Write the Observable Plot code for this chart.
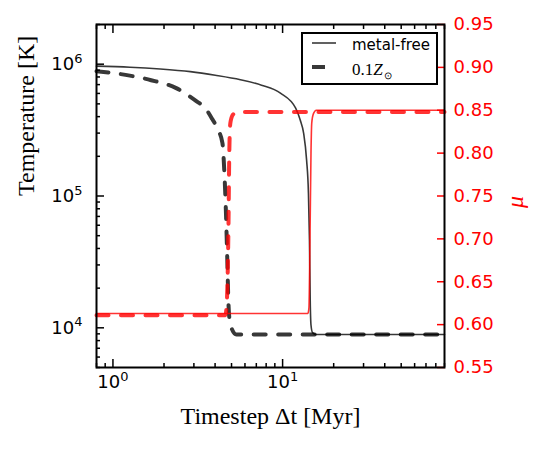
<!DOCTYPE html>
<html>
<head>
<meta charset="utf-8">
<script src="https://cdn.jsdelivr.net/npm/d3@7"></script>
<script src="https://cdn.jsdelivr.net/npm/@observablehq/plot@0.6"></script>
<style>
  body { margin: 0; background: #fff; }
  #chart { position: relative; width: 540px; height: 450px; }
  #chart > svg.layer { position: absolute; left: 0; top: 0; }
  #chart > svg.legend { position: absolute; left: 301px; top: 32px; }
</style>
</head>
<body>
<div id="chart"></div>
<script>
// Cooling run: temperature and mean molecular weight against timestep length
const timestepMetalFree = [0.8, 1.26, 1.9, 2.86, 4.01, 5.64, 7.51, 9.71, 11.94, 12.7, 13.3, 13.85, 14.2, 14.4, 14.55, 14.7, 15.0, 15.7, 20, 40, 90];
const tempMetalFree     = [9.66e5, 9.49e5, 9.2e5, 8.78e5, 8.25e5, 7.63e5, 6.93e5, 6.03e5, 4.64e5, 3.77e5, 3.0e5, 1.87e5, 1.05e5, 4.6e4, 1.6e4, 1.05e4, 9.2e3, 8.9e3, 8.9e3, 8.9e3, 8.9e3];

const timestepTenthSolar = [0.8, 1.21, 1.68, 2.36, 3.10, 3.5, 3.85, 4.15, 4.42, 4.53, 4.63, 4.72, 4.79, 4.85, 4.99, 5.34, 10, 90];
const tempTenthSolar     = [8.85e5, 8.26e5, 7.56e5, 6.58e5, 5.25e5, 4.64e5, 3.83e5, 3.2e5, 2.52e5, 1.57e5, 7.8e4, 3.3e4, 1.6e4, 1.2e4, 1.0e4, 8.9e3, 8.9e3, 8.9e3];

const muTimestepMetalFree = [0.8, 14.1, 14.3, 14.5, 14.7, 14.85, 15.2, 15.8, 90];
const muMetalFree         = [0.613, 0.613, 0.62, 0.70, 0.80, 0.835, 0.846, 0.850, 0.850];

const muTimestepTenthSolar = [0.8, 4.6, 4.7, 4.8, 4.85, 4.92, 5.1, 5.4, 90];
const muTenthSolar         = [0.611, 0.611, 0.63, 0.72, 0.80, 0.835, 0.845, 0.848, 0.848];

// Axis ticks
const xDomain = [0.8, 90];
const xMajor = [1, 10];
const xMinor = [0.8, 0.9, 2, 3, 4, 5, 6, 7, 8, 9, 20, 30, 40, 50, 60, 70, 80, 90];
const tDomain = [5e3, 2e6];
const tMajor = [1e4, 1e5, 1e6];
const tMinor = [5e3, 6e3, 7e3, 8e3, 9e3, 2e4, 3e4, 4e4, 5e4, 6e4, 7e4, 8e4, 9e4, 2e5, 3e5, 4e5, 5e5, 6e5, 7e5, 8e5, 9e5, 2e6];
const muDomain = [0.55, 0.95];
const muTicks = [0.55, 0.60, 0.65, 0.70, 0.75, 0.80, 0.85, 0.90, 0.95];

const xLabel = "Timestep Δt [Myr]";
const tLabel = "Temperature [K]";
const muLabel = "μ";

const zip = (xs, ys) => xs.map((x, i) => ({x, y: ys[i]}));
const metalFree = zip(timestepMetalFree, tempMetalFree);
const tenthSolar = zip(timestepTenthSolar, tempTenthSolar);
const muFree = zip(muTimestepMetalFree, muMetalFree);
const muTenth = zip(muTimestepTenthSolar, muTenthSolar);

const layout = {
  width: 540, height: 450,
  marginLeft: 96, marginRight: 96, marginTop: 24, marginBottom: 83,
  style: {fontFamily: "DejaVu Sans", fontSize: "18px", background: "transparent", overflow: "visible"}
};
const pow10 = d => `10^${Math.round(Math.log10(d))}`;
const blank = () => "";
const serif = "Liberation Serif";
const tick = {strokeWidth: 1.5, label: null};

const tempPlot = Plot.plot({
  ...layout,
  x: {type: "log", domain: xDomain},
  y: {type: "log", domain: tDomain},
  marks: [
    Plot.axisY(tMajor, {...tick, tickSize: -8, tickPadding: 22, tickFormat: pow10, fontSize: 18}),
    Plot.axisY(tMinor, {...tick, tickSize: -4, tickFormat: blank}),
    Plot.axisX(xMajor, {...tick, anchor: "bottom", tickSize: -8, tickPadding: 16, tickFormat: pow10, fontSize: 18}),
    Plot.axisX(xMinor, {...tick, anchor: "bottom", tickSize: -4, tickFormat: blank}),
    Plot.axisX(xMajor, {...tick, anchor: "top", tickSize: -8, tickFormat: blank}),
    Plot.axisX(xMinor, {...tick, anchor: "top", tickSize: -4, tickFormat: blank}),
    Plot.line(metalFree, {x: "x", y: "y", curve: "monotone-x", stroke: "black", strokeOpacity: 0.78, strokeWidth: 1.6}),
    Plot.line(tenthSolar, {x: "x", y: "y", curve: "monotone-x", stroke: "black", strokeOpacity: 0.78, strokeWidth: 4, strokeDasharray: "12,12.5"}),
    Plot.text([tLabel], {text: d => d, frameAnchor: "left", dx: -70, rotate: -90, fontFamily: serif, fontSize: 24, fill: "black"}),
    Plot.text([xLabel], {text: d => d, frameAnchor: "bottom", dy: 56, fontFamily: serif, fontSize: 24, fill: "black"})
  ]
});

const muPlot = Plot.plot({
  ...layout,
  x: {type: "log", domain: xDomain, axis: null},
  y: {domain: muDomain},
  marks: [
    Plot.line(muFree, {x: "x", y: "y", curve: "monotone-x", stroke: "red", strokeOpacity: 0.8, strokeWidth: 1.6}),
    Plot.line(muTenth, {x: "x", y: "y", curve: "monotone-x", stroke: "red", strokeOpacity: 0.8, strokeWidth: 4, strokeDasharray: "12,12.5"}),
    Plot.axisY(muTicks, {...tick, anchor: "right", tickSize: -8, tickPadding: 17, color: "red", tickFormat: d3.format(".2f"), fontSize: 18}),
    Plot.text([muLabel], {text: d => d, frameAnchor: "right", dx: 71, rotate: -90, fontFamily: serif, fontStyle: "italic", fontSize: 24, fill: "red"}),
    Plot.frame({stroke: "black", strokeWidth: 2})
  ]
});

// Turn "10^k" tick labels into base + raised exponent
d3.select(tempPlot).selectAll("text").each(function () {
  const m = /^10\^(-?\d+)$/.exec(this.textContent);
  if (!m) return;
  const t = d3.select(this);
  t.text(null);
  t.append("tspan").text("10");
  t.append("tspan").attr("dy", "-0.55em").attr("font-size", "0.72em").text(m[1]);
});

tempPlot.classList.add("layer");
muPlot.classList.add("layer");
const chart = document.getElementById("chart");
chart.append(tempPlot, muPlot);

// Legend box
const legend = d3.create("svg").attr("class", "legend").attr("width", 137).attr("height", 53);
legend.append("rect").attr("x", 1).attr("y", 1).attr("width", 135).attr("height", 51)
  .attr("fill", "white").attr("stroke", "black").attr("stroke-width", 2);
legend.append("line").attr("x1", 11).attr("x2", 35).attr("y1", 11).attr("y2", 11)
  .attr("stroke", "black").attr("stroke-opacity", 0.78).attr("stroke-width", 1.6);
legend.append("line").attr("x1", 11).attr("x2", 24).attr("y1", 35).attr("y2", 35)
  .attr("stroke", "black").attr("stroke-opacity", 0.78).attr("stroke-width", 4);
legend.append("text").attr("x", 51).attr("y", 18).attr("font-family", "DejaVu Sans").attr("font-size", 15)
  .text("metal-free");
const zt = legend.append("text").attr("x", 51).attr("y", 43).attr("font-family", serif).attr("font-size", 17);
zt.append("tspan").text("0.1");
zt.append("tspan").attr("font-style", "italic").text("Z");
zt.append("tspan").attr("font-size", 10).attr("dy", 4).attr("dx", 1).text("⊙");
chart.append(legend.node());
</script>
</body>
</html>
